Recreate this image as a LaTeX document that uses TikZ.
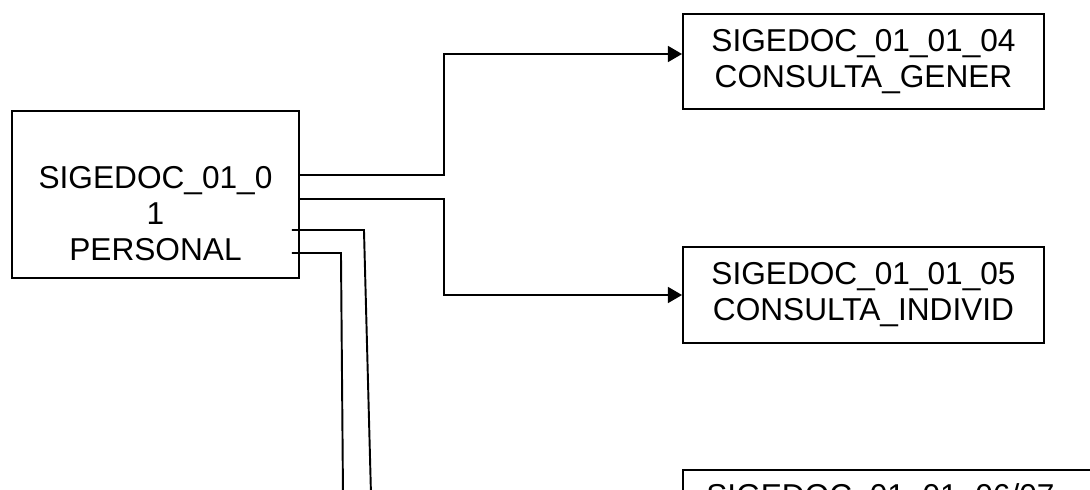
\documentclass[tikz,border=0pt]{standalone}
\usepackage{fontspec}
\setmainfont{Liberation Sans}
\usetikzlibrary{arrows.meta}

\begin{document}
\begin{tikzpicture}[
	box/.style={draw, line width=1.1pt, inner sep=0pt},
	txt/.style={align=center, inner sep=0pt, font=\fontsize{18pt}{20.5pt}\selectfont},
	arr/.style={line width=1.1pt, -{Triangle[length=8pt,width=9pt]}},
	wire/.style={line width=1.1pt}]
	\useasboundingbox (0,0) rectangle (21.8,-9.78);
	\clip (0,0) rectangle (21.8,-9.78);

	\node[box, minimum width=5.74cm, minimum height=3.34cm] (per) at (3.11,-3.89) {};
	\node[txt] (perT) at (3.11,-4.28) {SIGEDOC\_01\_0\\1\\PERSONAL};

	\node[box, txt, minimum width=7.22cm, minimum height=1.90cm] (gen) at (17.27,-1.23) {SIGEDOC\_01\_01\_04\\CONSULTA\_GENER};
	\node[box, txt, minimum width=7.22cm, minimum height=1.92cm] (ind) at (17.27,-5.90) {SIGEDOC\_01\_01\_05\\CONSULTA\_INDIVID};

	\node[box, minimum width=9cm, minimum height=1.92cm] (rest) at (18.16,-10.36) {};
	\node[txt, anchor=west] (restT) at (14.12,-9.96) {SIGEDOC\_01\_01\_06/07};

	\coordinate (d1) at (7.42,-9.9);
	\coordinate (d2) at (6.86,-9.9);

	\draw [arr] ([yshift=0.39cm]per.east) -- ++(2.88,0) |- ([yshift=0.15cm]gen.west);
	\draw [arr] ([yshift=-0.09cm]per.east) -- ++(2.88,0) |- (ind.west);

	\draw [wire] ([xshift=-0.16cm,yshift=-0.71cm]per.east) -- ++(1.44,0) -- (d1);
	\draw [wire] ([xshift=-0.16cm,yshift=-1.17cm]per.east) -- ++(0.98,0) -- (d2);

\end{tikzpicture}
\end{document}
